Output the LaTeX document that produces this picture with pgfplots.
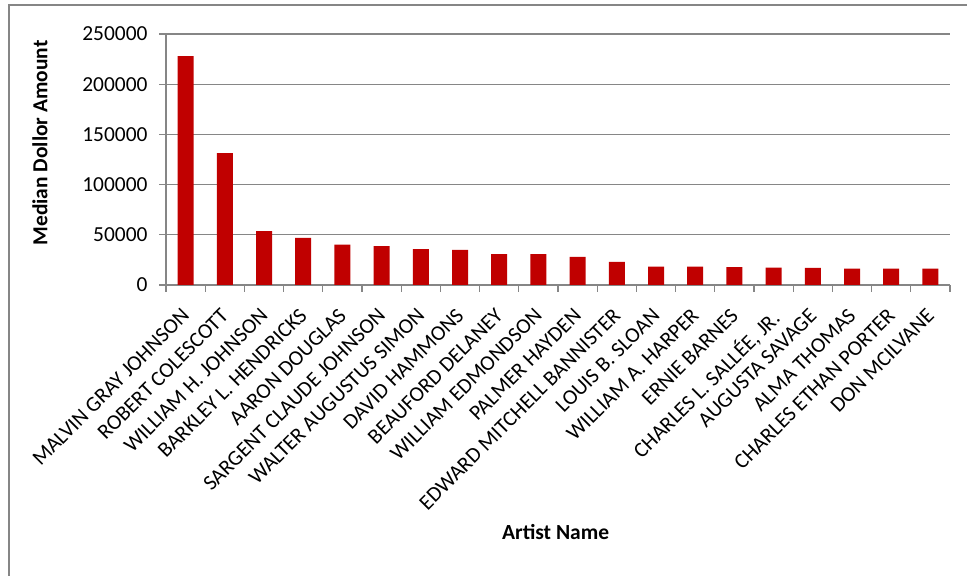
\documentclass[border=0pt]{standalone}
\usepackage{pgfplots}
\pgfplotsset{compat=1.18}
\usepackage{fontspec}
\setmainfont{Carlito}
\definecolor{barred}{HTML}{C00000}
\definecolor{gridgray}{HTML}{868686}
\begin{document}
\begin{tikzpicture}[x=1bp,y=1bp]
\path[use as bounding box] (0,0) rectangle (967,576);
\draw[gridgray, line width=1.5bp] (9,-2) -- (9,571) -- (970,571);
\begin{axis}[
  at={(166bp,291bp)}, anchor=south west,
  scale only axis, width=784bp, height=251bp,
  xmin=-0.5, xmax=19.5, ymin=0, ymax=250000,
  ytick={0,50000,100000,150000,200000,250000},
  yticklabels={0,50000,100000,150000,200000,250000},
  scaled y ticks=false,
  xtick={0,...,19},
  xticklabels={MALVIN GRAY JOHNSON, ROBERT COLESCOTT, WILLIAM H. JOHNSON, BARKLEY L. HENDRICKS, AARON DOUGLAS, SARGENT CLAUDE JOHNSON, WALTER AUGUSTUS SIMON, DAVID HAMMONS, BEAUFORD DELANEY, WILLIAM EDMONDSON, PALMER HAYDEN, EDWARD MITCHELL BANNISTER, LOUIS B. SLOAN, WILLIAM A. HARPER, ERNIE BARNES, {CHARLES L. SALLÉE, JR.}, AUGUSTA SAVAGE, ALMA THOMAS, CHARLES ETHAN PORTER, DON MCILVANE},
  minor xtick={-0.5,0.5,...,19.5},
  major x tick style={draw=none},
  minor x tick style={gridgray, line width=1.2bp},
  y tick style={gridgray, line width=1.2bp},
  tick align=outside,
  major tick length=7bp, minor tick length=7bp,
  axis x line*=bottom, axis y line*=left,
  axis line style={gridgray, line width=1.2bp, -},
  ymajorgrids, grid style={gridgray, line width=1.2bp},
  yticklabel style={font=\fontsize{21.5}{23}\selectfont, text=black, xshift=-8bp},
  xticklabel style={xshift=-5bp, yshift=-15bp, font=\fontsize{21.5}{23}\selectfont, text=black, rotate=45, anchor=north east, inner sep=0bp},
  ylabel={\textbf{Median Dollor Amount}},
  ylabel style={at={(axis description cs:-0.1607,0.566)}, anchor=center, rotate=0, font=\fontsize{21.5}{23}\selectfont},
  xlabel={\textbf{Artist Name}},
  xlabel style={at={(axis description cs:0.497,-0.984)}, anchor=center, font=\fontsize{21.6}{23}\selectfont},
  clip=false,
]
\addplot[ybar, bar width=16bp, fill=barred, draw=none] coordinates {
(0,228000) (1,131300) (2,53700) (3,47000) (4,40300) (5,38700) (6,35700) (7,35000) (8,30700) (9,30700)
(10,28000) (11,23000) (12,18300) (13,18300) (14,17700) (15,17300) (16,17000) (17,16300) (18,16300) (19,16300)
};
\end{axis}
\end{tikzpicture}
\end{document}
